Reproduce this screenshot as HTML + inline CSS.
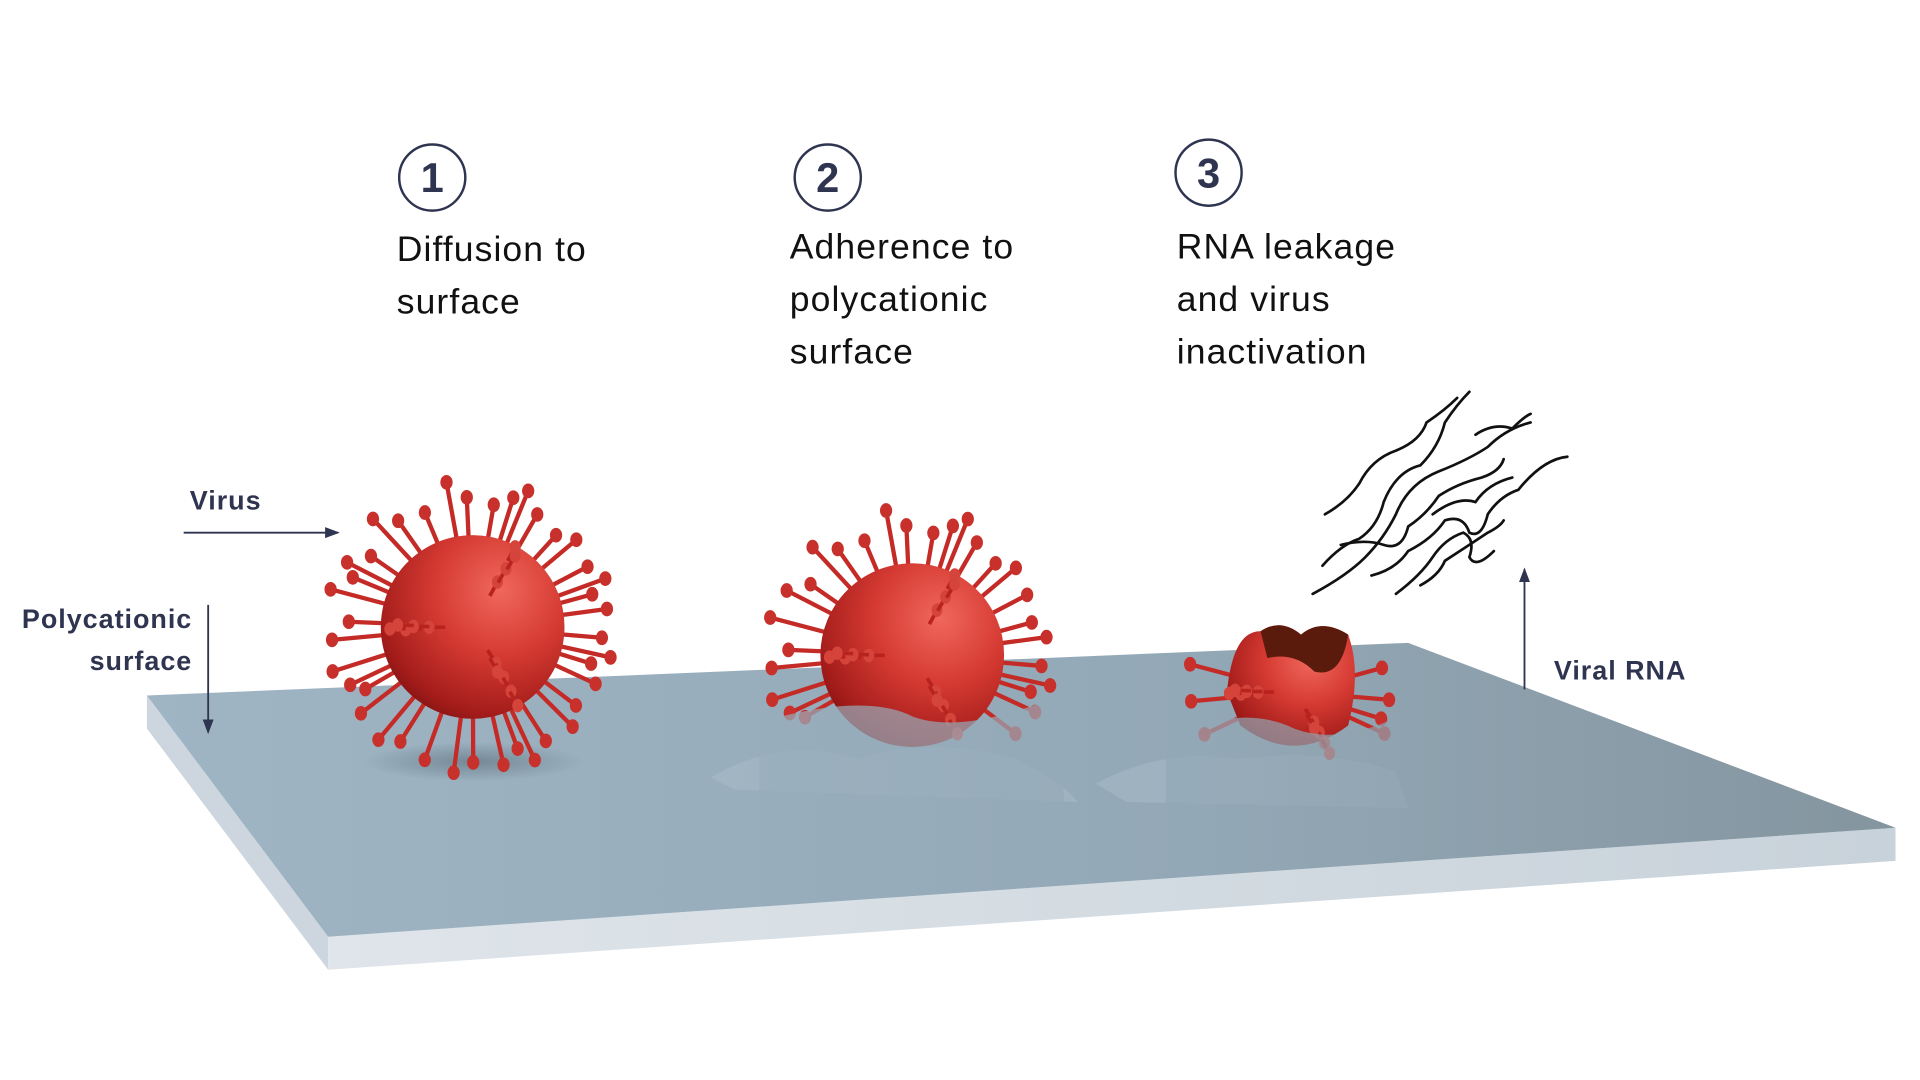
<!DOCTYPE html>
<html><head><meta charset="utf-8"><style>
html,body{margin:0;padding:0;background:#fff;}
svg{display:block}
text{font-family:"Liberation Sans",Arial,sans-serif;}
</style></head><body>
<svg id="s" width="1920" height="1080" viewBox="0 0 1568 882" xmlns="http://www.w3.org/2000/svg">
<defs>
<linearGradient id="top" gradientUnits="userSpaceOnUse" x1="120" y1="0" x2="1548" y2="0">
<stop offset="0" stop-color="#9fb5c4"/><stop offset="0.6" stop-color="#93a8b6"/><stop offset="1" stop-color="#84959f"/></linearGradient>
<linearGradient id="front" x1="0" y1="0" x2="1" y2="0">
<stop offset="0" stop-color="#dfe5ea"/><stop offset="1" stop-color="#c8d2da"/></linearGradient>
<radialGradient id="sph" cx="0.65" cy="0.3" r="0.8">
<stop offset="0" stop-color="#f0675c"/><stop offset="0.45" stop-color="#d53a32"/><stop offset="0.85" stop-color="#a31c1a"/><stop offset="1" stop-color="#7d1212"/></radialGradient>
<radialGradient id="shd" cx="0.5" cy="0.5" r="0.5">
<stop offset="0" stop-color="#5a6c78" stop-opacity="0.6"/><stop offset="1" stop-color="#5a6c78" stop-opacity="0"/></radialGradient>
<marker id="ar" markerWidth="8" markerHeight="8" refX="7" refY="4" orient="auto"><path d="M0,1 L8,4 L0,7z" fill="#2f3550"/></marker>
</defs>
<polygon points="120,568 268,765 268,792 120,595" fill="#cdd6de"/>
<polygon points="268,765 1548,676 1548,703 268,792" fill="url(#front)"/>
<polygon points="120,568 1150,525 1548,676 268,765" fill="url(#top)"/>
<ellipse cx="386" cy="622" rx="90" ry="16" fill="url(#shd)"/>
<path d="M580,635 Q640,600 700,620 Q760,600 830,620 Q870,640 880,655 L600,645z" fill="#a9bcc8" opacity="0.5"/>
<path d="M895,640 Q950,610 1010,620 Q1080,610 1140,630 L1150,660 L920,655z" fill="#a9bcc8" opacity="0.5"/>
<g id="viruses"></g>
<g fill="none" stroke="#2f3550" stroke-width="2">
<circle cx="353" cy="145" r="27"/><circle cx="676" cy="145" r="27"/><circle cx="987" cy="141" r="27"/>
</g>
<g font-size="34" font-weight="bold" fill="#2f3550" text-anchor="middle">
<text x="353" y="157">1</text><text x="676" y="157">2</text><text x="987" y="153">3</text>
</g>
<g font-size="29" fill="#111" letter-spacing="0.9">
<text x="324" y="213">Diffusion to</text><text x="324" y="256">surface</text>
<text x="645" y="211">Adherence to</text><text x="645" y="254">polycationic</text><text x="645" y="297">surface</text>
<text x="961" y="211">RNA leakage</text><text x="961" y="254">and virus</text><text x="961" y="297">inactivation</text>
</g>
<g font-size="22" font-weight="bold" fill="#2f3550" letter-spacing="0.8">
<text x="155" y="416">Virus</text>
<text x="157" y="513" text-anchor="end">Polycationic</text>
<text x="157" y="547" text-anchor="end">surface</text>
<text x="1269" y="555">Viral RNA</text>
</g>
<g stroke="#2f3550" stroke-width="1.5" fill="none">
<line x1="150" y1="435" x2="276" y2="435" marker-end="url(#ar)"/>
<line x1="170" y1="494" x2="170" y2="598" marker-end="url(#ar)"/>
<line x1="1245" y1="563" x2="1245" y2="465" marker-end="url(#ar)"/>
</g>
<g stroke="#111" stroke-width="2.2" fill="none" stroke-linecap="round">
<path d="M1072,485 Q1100,470 1115,455 Q1130,440 1140,420 Q1150,395 1175,385 Q1200,375 1215,365 Q1230,350 1250,345"/>
<path d="M1080,462 Q1095,445 1110,440 Q1125,430 1130,410 Q1140,385 1160,380 Q1175,365 1180,345 Q1190,330 1200,320"/>
<path d="M1082,420 Q1100,410 1110,395 Q1120,375 1140,368 Q1160,360 1165,345 Q1180,335 1190,325"/>
<path d="M1095,445 Q1115,440 1130,445 Q1145,450 1150,430 Q1165,420 1175,405 Q1190,395 1210,390 Q1225,385 1228,375"/>
<path d="M1120,470 Q1140,465 1150,450 Q1170,440 1180,425 Q1195,420 1200,435 Q1210,440 1215,420 Q1225,405 1240,400 Q1260,375 1280,373"/>
<path d="M1140,485 Q1160,470 1170,455 Q1180,440 1195,435 Q1205,440 1200,455 Q1205,465 1220,450"/>
<path d="M1160,478 Q1175,470 1180,458 Q1200,445 1215,435 Q1225,430 1228,425"/>
<path d="M1170,420 Q1190,405 1205,410 Q1215,395 1235,390"/>
<path d="M1205,355 Q1220,345 1235,350 Q1245,340 1250,338"/>
</g>
</svg>
<script>
var NS="http://www.w3.org/2000/svg",g=document.getElementById("viruses");
function el(n,a,p){var e=document.createElementNS(NS,n);for(var k in a)e.setAttribute(k,a[k]);(p||g).appendChild(e);return e;}
function virus(cx,cy,r,n,clipY,broken){
 var grp=el("g",{});
 var back=el("g",{},grp);
 for(var i=0;i<n;i++){
  var a=i*2.39996+0.3, L=r*(1.35+0.25*((i*7)%5)/4);
  var ex=cx+Math.cos(a)*L, ey=cy+Math.sin(a)*L;
  if(clipY&&ey>clipY+20)continue;
  if(broken&&ey<cy-r*0.6)continue;
  el("line",{x1:cx,y1:cy,x2:ex,y2:ey,stroke:"#c42a26","stroke-width":3.5},back);
  el("ellipse",{cx:ex,cy:ey,rx:5,ry:6,fill:"#c8302b"},back);
 }
 if(broken){
  el("path",{d:"M"+(cx-r)+","+cy+" Q"+(cx-r+5)+","+(cy-r+5)+" "+(cx-r*0.5)+","+(cy-r*0.9)+" Q"+(cx-r*0.2)+","+(cy-r*1.1)+" "+(cx+r*0.1)+","+(cy-r*0.85)+" Q"+(cx+r*0.4)+","+(cy-r*1.1)+" "+(cx+r*0.8)+","+(cy-r*0.85)+" Q"+(cx+r)+","+(cy-r*0.3)+" "+(cx+r*0.8)+","+(cy+r*0.5)+" Q"+cx+","+(cy+r*1.1)+" "+(cx-r*0.8)+","+(cy+r*0.5)+"z",fill:"url(#sph)"},grp);
  el("path",{d:"M"+(cx-r*0.5)+","+(cy-r*0.9)+" Q"+(cx-r*0.2)+","+(cy-r*1.1)+" "+(cx+r*0.1)+","+(cy-r*0.85)+" Q"+(cx+r*0.4)+","+(cy-r*1.1)+" "+(cx+r*0.8)+","+(cy-r*0.85)+" Q"+(cx+r*0.7)+","+(cy-r*0.2)+" "+(cx+r*0.3)+","+(cy-r*0.3)+" Q"+(cx)+","+(cy-r*0.6)+" "+(cx-r*0.4)+","+(cy-r*0.5)+"z",fill:"#5a1a0c"},grp);
 } else el("circle",{cx:cx,cy:cy,r:r,fill:"url(#sph)"},grp);
 for(var j=0;j<14;j++){
  var b=j*2.1+1, d=r*0.3+r*0.6*((j*3)%7)/7;
  var px=cx+Math.cos(b)*d, py=cy+Math.sin(b)*d;
  if(broken&&py<cy-r*0.3)continue;
  el("line",{x1:px,y1:py,x2:px+Math.cos(b)*12,y2:py+Math.sin(b)*12,stroke:"#b8221f","stroke-width":3},grp);
  el("ellipse",{cx:px+Math.cos(b)*13,cy:py+Math.sin(b)*13,rx:4.5,ry:5.5,fill:"#d5443a"},grp);
 }
 if(clipY){el("path",{d:"M"+(cx-r-50)+","+(clipY+10)+" Q"+(cx-40)+","+(clipY-15)+" "+cx+","+(clipY+5)+" Q"+(cx+40)+","+(clipY+20)+" "+(cx+r+40)+","+(clipY-10)+" L"+(cx+r+50)+","+(clipY+80)+" L"+(cx-r-50)+","+(clipY+80)+"z",fill:"url(#top)",opacity:0.7},grp);}
}
virus(386,512,75,40,0,false);
virus(745,535,75,38,580,false);
virus(1057,565,55,22,590,true);
</script>
</body></html>
